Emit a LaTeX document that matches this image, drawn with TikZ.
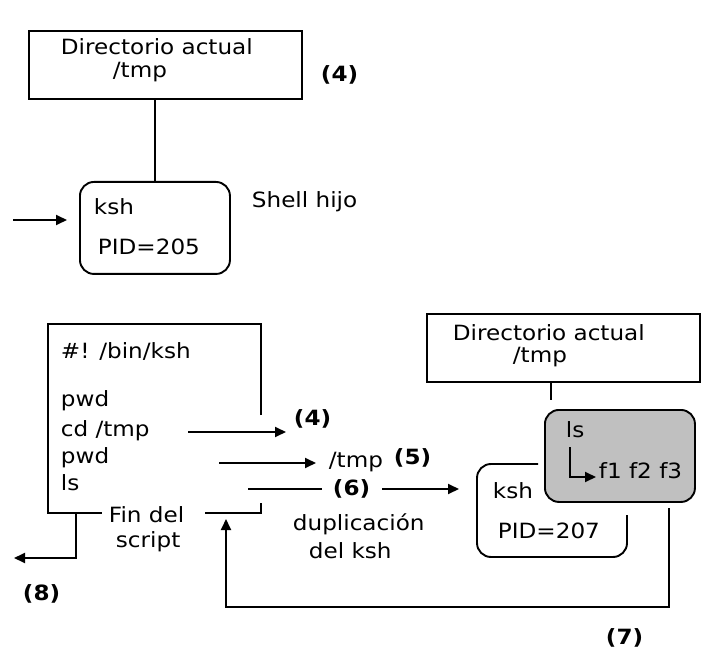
\documentclass[tikz,border=0pt]{standalone}
\usepackage{fontspec}
\setmainfont{DejaVu Sans}[FakeStretch=1.1]
\usetikzlibrary{arrows.meta}
\begin{document}
\begin{tikzpicture}[x=1pt,y=-1pt,
  line width=1.9pt,
  txt/.style={anchor=base west, inner sep=0pt, font=\fontsize{21}{25}\selectfont},
  num/.style={txt, font=\fontsize{21}{25}\selectfont\bfseries},
  dirbox/.style={draw, anchor=north west, inner sep=0pt, minimum width=273pt, minimum height=68pt},
  shellbox/.style={draw, rounded corners=14pt, anchor=north west, inner sep=0pt, minimum width=150pt, minimum height=92pt},
  tip/.style={-{Triangle[length=11pt,width=10pt]}},
]
\definecolor{lsgray}{RGB}{192,192,192}
\useasboundingbox (0,0) rectangle (720,652);

% ---- child shell (top) ----
\node[dirbox] (dirA) at (28,30) {};
\node[txt] (dirAt) at (60,55) {Directorio actual};
\node[txt] (dirAp) at (112,78) {/tmp};
\node[num] (n4a) at (320,82) {(4)};
\node[shellbox] (kshA) at (79,181) {};
\node[txt] (kshAt) at (93,215) {ksh};
\node[txt] (pidA) at (97,255) {PID=205};
\node[txt] (hijo) at (251,208) {Shell hijo};
\draw (kshA.north |- dirA.south) -- (kshA.north);
\coordinate (inA) at (13,220);
\coordinate (inAend) at (67,220);
\draw[tip] (inA) -- (inAend);

% ---- script ----
\node[txt] (shebang) at (60,358) {\#! /bin/ksh};
\node[txt] (pwdA) at (60,406) {pwd};
\node[txt] (cdtmp) at (60,436) {cd /tmp};
\node[txt] (pwdB) at (60,463) {pwd};
\node[txt] (lscmd) at (60,490) {ls};
\node[txt] (fin) at (108,522) {Fin del};
\node[txt] (scrip) at (115,547) {script};
\draw (261,415) -- (261,324) -- (48,324) -- (48,513) -- (102,513);
\draw (205,513) -- (261,513) -- (261,503);

% ---- arrows from the script ----
\coordinate (cdS) at (188,432);
\coordinate (cdE) at (286,432);
\draw[tip] (cdS) -- (cdE);
\node[num] (n4b) at (293,425) {(4)};
\coordinate (pwS) at (219,463);
\coordinate (pwE) at (316,463);
\draw[tip] (pwS) -- (pwE);
\node[txt] (tmpout) at (328,467) {/tmp};
\node[num] (n5) at (393,464) {(5)};
\coordinate (lsS) at (248,489);
\coordinate (lsM) at (322,489);
\coordinate (lsN) at (382,489);
\coordinate (lsE) at (459,489);
\draw (lsS) -- (lsM);
\node[num] (n6) at (332,495) {(6)};
\draw[tip] (lsN) -- (lsE);
\node[txt] (dup) at (292,530) {duplicación};
\node[txt] (delksh) at (308,558) {del ksh};

% ---- end of script ----
\coordinate (endS) at (76,513);
\coordinate (endE) at (14,558);
\draw[tip] (endS) -- (endS |- endE) -- (endE);
\node[num] (n8) at (22,600) {(8)};

% ---- duplicated shell (right) ----
\node[dirbox] (dirB) at (426,313) {};
\node[txt] (dirBt) at (452,340) {Directorio actual};
\node[txt] (dirBp) at (512,362) {/tmp};
\draw (551,381) -- (551,400);
\draw[rounded corners=14pt] (538,464) -- (477,464) -- (477,557) -- (627,557) -- (627,515);
\node[txt] (kshBt) at (492,498) {ksh};
\node[txt] (pidB) at (497,538) {PID=207};
\node[shellbox, fill=lsgray] (lsbox) at (544,409) {};
\node[txt] (lsB) at (565,437) {ls};
\node[txt] (files) at (598,478) {f1 f2 f3};
\draw[tip] (570,447) -- (570,477) -- (596,477);

% ---- return to the script ----
\coordinate (retS) at (669,508);
\coordinate (retE) at (226,519);
\draw[tip] (retS) -- (669,607) -- (retE |- 0,607) -- (retE);
\node[num] (n7) at (605,644) {(7)};
\end{tikzpicture}
\end{document}
